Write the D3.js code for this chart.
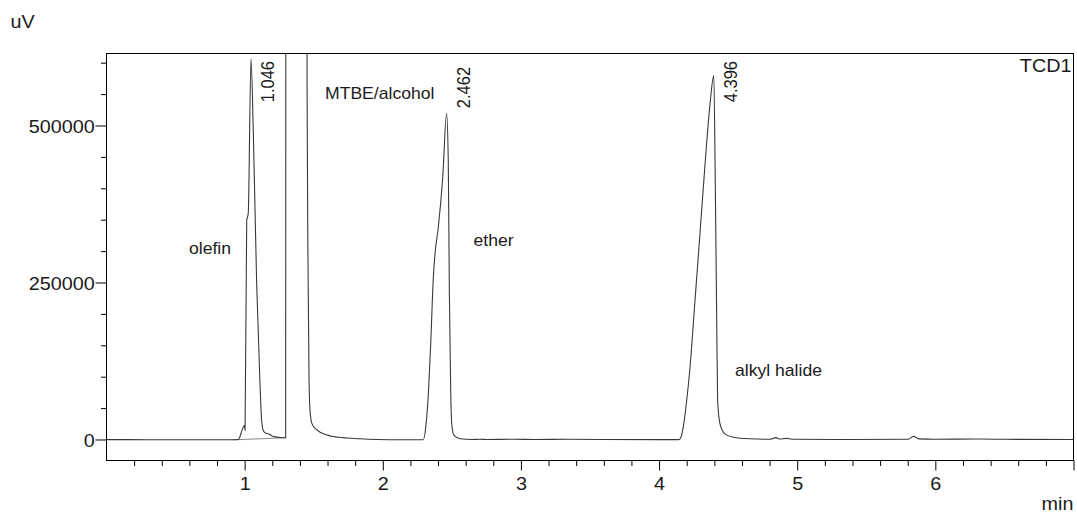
<!DOCTYPE html>
<html><head><meta charset="utf-8">
<script src="https://cdn.jsdelivr.net/npm/d3@7"></script>
<style>
body{margin:0;background:#fff}
svg{display:block}
text{font-family:"Liberation Sans",Arial,sans-serif;fill:#1a1a1a}
</style>
</head><body>
<svg id="c" width="1077" height="515"></svg>
<script>
// ---- data ----
const traceTime = [0.000,0.300,0.600,0.917,0.954,0.998,1.003,1.015,1.026,1.046,1.063,1.087,1.111,1.123,1.135,1.150,1.171,1.207,1.250,1.292,1.297,1.299,1.448,1.452,1.458,1.466,1.472,1.480,1.490,1.505,1.522,1.546,1.600,1.642,1.740,1.835,2.052,2.293,2.311,2.330,2.347,2.366,2.378,2.402,2.434,2.462,2.474,2.482,2.492,2.499,2.516,2.559,2.650,2.704,2.750,2.957,3.100,3.341,3.600,4.000,4.140,4.152,4.175,4.200,4.224,4.260,4.296,4.333,4.369,4.396,4.407,4.417,4.424,4.441,4.477,4.537,4.658,4.800,4.845,4.870,4.925,4.960,5.300,5.800,5.844,5.880,6.000,6.300,6.500,7.000];
const traceUV   = [-200,-300,-300,-500,0,22300,14300,348700,359900,606200,487300,248400,89200,30300,14300,10500,9100,4800,3500,2700,2700,1500000,1500000,560000,300000,100000,50000,32000,24000,19000,15500,11600,7000,4800,2300,1100,-300,-300,19600,72800,152900,258500,295700,338000,417700,519600,444300,232000,72800,25000,6400,1100,0,500,0,400,0,300,0,-200,-200,800,19600,62100,115100,221300,327500,439000,534500,579600,407200,194700,62100,25000,9000,3700,1100,300,3000,800,1800,400,0,300,5000,1000,500,700,300,0];
const baselineTime = [0.917, 1.292];
const baselineUV = [-500, 2700];
const peakTimes = [1.046, 2.462, 4.396];
const peakUV = [606200, 519600, 579600];
const peakLabels = ["1.046", "2.462", "4.396"];
const compoundNames = ["olefin", "MTBE/alcohol", "ether", "alkyl halide"];
const xMajorTicks = [1, 2, 3, 4, 5, 6];
const yMajorTicks = [0, 250000, 500000];
const yUnit = "uV", xUnit = "min", detectorName = "TCD1";

// ---- layout ----
const L = 106.5, R = 1073.5, T = 53.5, B = 460.5;
const SX = 1.1; // horizontal text stretch of the reference
const svg = d3.select("#c");
const x = d3.scaleLinear().domain([0, 7]).range([L, R]);
const y = d3.scaleLinear().domain([-33440, 614650]).range([B, T]);

// ticks
const xMinor = d3.range(1, 35).map(i => i / 5).filter(v => Math.abs(v - Math.round(v)) > 1e-6);
const yMinor = d3.range(50000, 614650, 50000).filter(v => !yMajorTicks.includes(v));

svg.append("g").attr("transform", `translate(0,${B})`)
  .call(d3.axisBottom(x).tickValues(xMinor).tickSize(5.5).tickFormat(""))
  .call(g => g.select(".domain").remove());
const xa = svg.append("g").attr("transform", `translate(0,${B})`)
  .call(d3.axisBottom(x).tickValues(xMajorTicks.concat([7])).tickSize(10).tickFormat(d => d === 7 ? "" : d3.format("d")(d)))
  .call(g => g.select(".domain").remove());
xa.selectAll("text").attr("y", 16.3).attr("dy", "0.71em").attr("transform", `scale(${SX},1)`)
  .style("font-size", "18px").style("font-family", "Liberation Sans, Arial, sans-serif").attr("fill", "#1a1a1a");

svg.append("g").attr("transform", `translate(${L},0)`)
  .call(d3.axisLeft(y).tickValues(yMinor).tickSize(5.5).tickFormat(""))
  .call(g => g.select(".domain").remove());
const ya = svg.append("g").attr("transform", `translate(${L},0)`)
  .call(d3.axisLeft(y).tickValues(yMajorTicks).tickSize(11).tickFormat(d3.format("d")))
  .call(g => g.select(".domain").remove());
ya.selectAll("text").attr("x", -11.8 / SX).attr("dy", "0.4em").attr("transform", `scale(${SX},1)`)
  .style("font-size", "18px").style("font-family", "Liberation Sans, Arial, sans-serif").attr("fill", "#1a1a1a");
svg.selectAll(".tick line").attr("stroke", "#000");

// frame
svg.append("rect").attr("x", L).attr("y", T).attr("width", R - L).attr("height", B - T)
  .attr("fill", "none").attr("stroke", "#000").attr("stroke-width", 1);

// clip
svg.append("clipPath").attr("id", "clip").append("rect")
  .attr("x", L).attr("y", T).attr("width", R - L).attr("height", B - T);

const line = d3.line().x(d => x(d[0])).y(d => y(d[1]));
const smooth = d3.line().x(d => x(d[0])).y(d => y(d[1])).curve(d3.curveMonotoneX);
const plot = svg.append("g").attr("clip-path", "url(#clip)");
plot.append("path").datum(baselineTime.map((t, i) => [t, baselineUV[i]]))
  .attr("d", line).attr("fill", "none").attr("stroke", "#8a8a8a").attr("stroke-width", 1);
plot.append("path").datum(traceTime.map((t, i) => [t, traceUV[i]]))
  .attr("d", smooth).attr("fill", "none").attr("stroke", "#383838").attr("stroke-width", 1.1)
  .attr("stroke-linejoin", "round");

// helper for stretched text
function txt(px, py, s, size, anchor) {
  return svg.append("text").attr("transform", `translate(${px},${py}) scale(${SX},1)`)
    .attr("text-anchor", anchor || "start").style("font-size", size + "px").text(s);
}

// peak retention-time labels (rotated)
peakTimes.forEach((t, i) => {
  const px = x(t) + 23.5, ay = y(peakUV[i]);
  const tmp = svg.append("text").style("font-size", "16.5px").text(peakLabels[i]);
  const len = tmp.node().getComputedTextLength();
  tmp.remove();
  const top = Math.max(61, ay - 5 - len);
  svg.append("text").attr("transform", `translate(${px},${top}) scale(${SX},1) rotate(-90)`)
    .attr("text-anchor", "end").style("font-size", "16.5px").text(peakLabels[i]);
});

// compound annotations
txt(231, 253.5, compoundNames[0], 16, "end");
txt(325, 98.5, compoundNames[1], 16);
txt(473.5, 245.7, compoundNames[2], 16);
txt(735, 375.5, compoundNames[3], 16);

// unit & detector labels
txt(10.5, 28, yUnit, 18);
txt(1073.5, 510, xUnit, 18, "end");
txt(1071.5, 72, detectorName, 18, "end");
</script>
</body></html>
